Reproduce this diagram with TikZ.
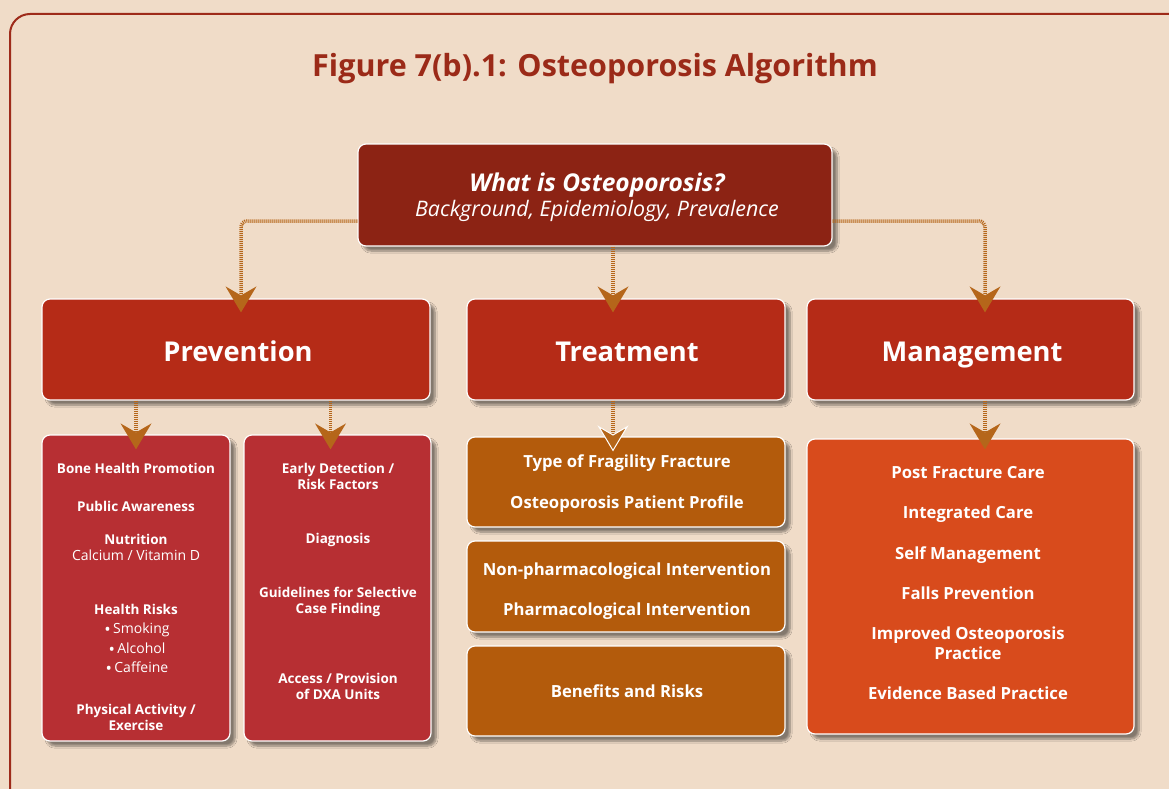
\documentclass[tikz,border=0pt]{standalone}
\usepackage{fontspec}
\setmainfont{Open Sans}
\usetikzlibrary{arrows.meta,shadows.blur,calc}
\definecolor{bgc}{HTML}{F0DCC8}
\definecolor{framec}{HTML}{9E2B1A}
\definecolor{titlec}{HTML}{9B2A18}
\definecolor{topc}{HTML}{8C2314}
\definecolor{mainc}{HTML}{B52B17}
\definecolor{prevc}{HTML}{B72F33}
\definecolor{treatc}{HTML}{B35B0C}
\definecolor{mgmtc}{HTML}{D84B1C}
\definecolor{arrc}{HTML}{B5661A}
\tikzset{
  box/.style={draw=white, line width=1.2pt, rounded corners=8pt, inner sep=0pt,
    blur shadow={shadow xshift=5pt, shadow yshift=-5pt, shadow opacity=45, shadow blur steps=8}},
  conn/.style={line width=3.5pt, dash pattern=on 1pt off 1pt, draw=arrc, rounded corners=6pt,
    -{Stealth[length=26pt, width=31pt, inset=9pt, line width=0pt, fill=arrc]}},
  connw/.style={line width=3.5pt, dash pattern=on 1pt off 1pt, draw=arrc,
    -{Stealth[length=26pt, width=31pt, inset=9pt, line width=1pt, color=white, fill=arrc]}},
  txt/.style={text=white, inner sep=0pt, text height=0.8em, text depth=0.08em},
  head/.style={txt, font=\fontsize{27.3}{30}\selectfont\bfseries},
  small/.style={txt, font=\fontsize{13.5}{15}\selectfont\bfseries},
  smallr/.style={txt, font=\fontsize{14}{15}\selectfont},
  mid/.style={txt, font=\fontsize{16.7}{18}\selectfont\bfseries},
}
\newcommand{\bul}{{\fontsize{17}{15}\selectfont\raisebox{-2.2pt}{\textbullet}}\,}
\begin{document}
\begin{tikzpicture}[x=1pt,y=-1pt]
\useasboundingbox (0,0) rectangle (1169,789);
\fill[bgc] (0,0) rectangle (1169,789);
\draw[framec, line width=2pt, rounded corners=20pt] (10,820) -- (10,14) -- (1200,14);
\node[txt, text=titlec, font=\fontsize{30.5}{34}\selectfont\bfseries] (title) at (595,73) {Figure 7(b).1: Osteoporosis Algorithm};

% boxes
\node[box, fill=topc, minimum width=474pt, minimum height=102pt] (top) at (595,195) {};
\node[box, fill=mainc, minimum width=388pt, minimum height=101pt] (prev) at (236,349.5) {};
\node[box, fill=mainc, minimum width=318pt, minimum height=101pt] (treat) at (626,349.5) {};
\node[box, fill=mainc, minimum width=327pt, minimum height=101pt] (mgmt) at (970.5,349.5) {};
\node[box, fill=prevc, minimum width=188pt, minimum height=306pt] (pa) at (136,588) {};
\node[box, fill=prevc, minimum width=187pt, minimum height=306pt] (pb) at (337.5,588) {};
\node[box, fill=treatc, minimum width=318pt, minimum height=90pt] (ta) at (626,482) {};
\node[box, fill=treatc, minimum width=318pt, minimum height=91pt] (tb) at (626,586.5) {};
\node[box, fill=treatc, minimum width=318pt, minimum height=90pt] (tc) at (626,691) {};
\node[box, fill=mgmtc, minimum width=327pt, minimum height=295pt] (ma) at (970.5,586.5) {};

% connectors
\draw[conn] ([yshift=-26pt]top.west) -| ([xshift=5pt,yshift=-14pt]prev.north);
\draw[conn] ([xshift=18pt]top.south) -- ([xshift=-13pt,yshift=-14pt]treat.north);
\draw[conn] ([yshift=-26pt]top.east) -| ([xshift=14.5pt,yshift=-14pt]mgmt.north);
\draw[conn] (pa.north |- prev.south) -- ([yshift=-15pt]pa.north);
\draw[conn] ([xshift=-7pt]pb.north |- prev.south) -- ([xshift=-7pt,yshift=-15pt]pb.north);
\draw[connw] ([xshift=-13pt]ta.north |- treat.south) -- ([xshift=-13pt,yshift=-15pt]ta.north);
\draw[conn] ([xshift=14.5pt]ma.north |- mgmt.south) -- ([xshift=14.5pt,yshift=-11pt]ma.north);

% top text
\node[txt, font=\fontsize{24.5}{28}\selectfont\bfseries\itshape] (q) at (597,188) {What is Osteoporosis?};
\node[txt, font=\fontsize{21.4}{24}\selectfont\itshape] (q2) at (597,213) {Background, Epidemiology, Prevalence};

% headings
\node[head] (h1) at (238,358) {Prevention};
\node[head] (h2) at (627,358) {Treatment};
\node[head] (h3) at (972,358) {Management};

% prevention col 1
\node[small] (a1) at (136,469.5) {Bone Health Promotion};
\node[small] (a2) at (136,507.5) {Public Awareness};
\node[small] (a3) at (136,540.5) {Nutrition};
\node[smallr] (a4) at (136,556.5) {Calcium / Vitamin D};
\node[small] (a5) at (136,610.5) {Health Risks};
\node[smallr] (a6) at (137,629.5) {\bul Smoking};
\node[smallr] (a7) at (137,649.5) {\bul Alcohol};
\node[smallr] (a8) at (137,668.5) {\bul Caffeine};
\node[small] (a9) at (136,710.5) {Physical Activity /};
\node[small] (a10) at (136,726.5) {Exercise};

% prevention col 2
\node[small] (b1) at (338,469.5) {Early Detection /};
\node[small] (b2) at (338,485.5) {Risk Factors};
\node[small] (b3) at (338,539.5) {Diagnosis};
\node[small] (b4) at (338,593.5) {Guidelines for Selective};
\node[small] (b5) at (338,609.5) {Case Finding};
\node[small] (b6) at (338,679.5) {Access / Provision};
\node[small] (b7) at (338,695.5) {of DXA Units};

% treatment
\node[mid] (c1) at (627,463.5) {Type of Fragility Fracture};
\node[mid] (c2) at (627,504.5) {Osteoporosis Patient Profile};
\node[mid] (c3) at (627,571.5) {Non-pharmacological Intervention};
\node[mid] (c4) at (627,611.5) {Pharmacological Intervention};
\node[mid] (c5) at (627,693.5) {Benefits and Risks};

% management
\node[mid] (d1) at (968,474.5) {Post Fracture Care};
\node[mid] (d2) at (968,514.5) {Integrated Care};
\node[mid] (d3) at (968,555.5) {Self Management};
\node[mid] (d4) at (968,595.5) {Falls Prevention};
\node[mid] (d5) at (968,635.5) {Improved Osteoporosis};
\node[mid] (d6) at (968,655.5) {Practice};
\node[mid] (d7) at (968,695.5) {Evidence Based Practice};
\end{tikzpicture}
\end{document}
